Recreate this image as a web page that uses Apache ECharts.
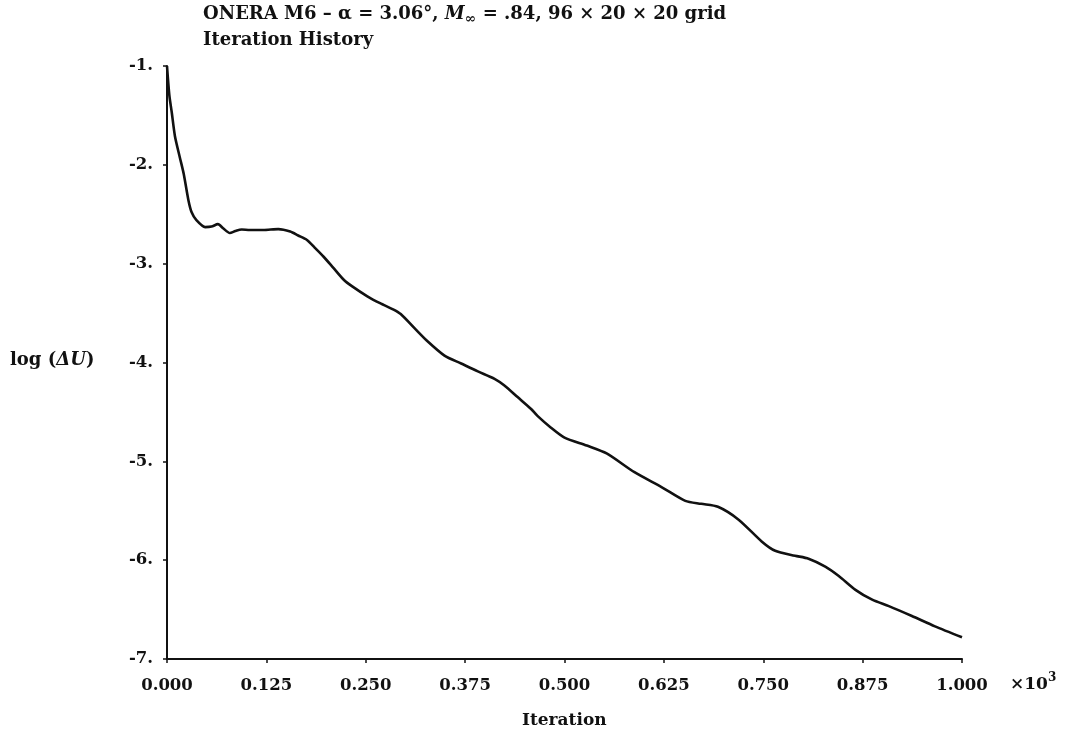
<!DOCTYPE html>
<html>
<head>
<meta charset="utf-8">
<script src="https://cdn.jsdelivr.net/npm/echarts@6/dist/echarts.min.js"></script>
<style>
html,body{margin:0;padding:0;background:#fff;}
#chart{width:1070px;height:737px;}
</style>
</head>
<body>
<div id="chart"></div>
<script>
// Data (x in thousands of iterations, y = log(ΔU))
const iterations = [0, 0.003, 0.006, 0.010, 0.016, 0.021, 0.027, 0.031, 0.037, 0.048, 0.056, 0.064, 0.071, 0.079, 0.086, 0.094, 0.104, 0.121, 0.140, 0.155, 0.165, 0.176, 0.186, 0.197, 0.209, 0.222, 0.233, 0.252, 0.268, 0.285, 0.294, 0.311, 0.327, 0.349, 0.370, 0.391, 0.412, 0.424, 0.441, 0.458, 0.466, 0.483, 0.500, 0.528, 0.553, 0.588, 0.622, 0.652, 0.672, 0.693, 0.719, 0.748, 0.765, 0.790, 0.807, 0.828, 0.845, 0.866, 0.887, 0.908, 0.937, 0.966, 1.000];
const logDU = [-1.00, -1.30, -1.47, -1.71, -1.92, -2.09, -2.36, -2.48, -2.56, -2.63, -2.625, -2.60, -2.645, -2.69, -2.67, -2.655, -2.66, -2.66, -2.65, -2.675, -2.715, -2.76, -2.84, -2.93, -3.04, -3.16, -3.23, -3.33, -3.40, -3.465, -3.51, -3.65, -3.78, -3.93, -4.01, -4.09, -4.165, -4.23, -4.35, -4.47, -4.54, -4.66, -4.76, -4.84, -4.92, -5.11, -5.26, -5.40, -5.43, -5.46, -5.59, -5.81, -5.905, -5.955, -5.985, -6.065, -6.16, -6.30, -6.40, -6.465, -6.565, -6.67, -6.78];
const xTickLabels = ['0.000','0.125','0.250','0.375','0.500','0.625','0.750','0.875','1.000'];
const yTickLabels = ['-7.','-6.','-5.','-4.','-3.','-2.','-1.'];

const FONT = '"DejaVu Serif", "Liberation Serif", serif';
const INK = '#111';

const chart = echarts.init(document.getElementById('chart'), null, {renderer:'canvas'});
const pts = iterations.map((x, i) => [x, logDU[i]]);

chart.setOption({
  backgroundColor: '#fff',
  animation: false,
  grid: {left: 167, right: 108, top: 66, bottom: 78, containLabel: false},
  xAxis: {
    type: 'value', min: 0, max: 1, interval: 0.125,
    splitLine: {show: false},
    axisLine: {show: true, lineStyle: {color: INK, width: 2}},
    axisTick: {show: true, inside: false, length: 4, lineStyle: {color: INK, width: 1.5}},
    axisLabel: {
      margin: 18, color: INK, fontFamily: FONT, fontWeight: 'bold', fontSize: 16.5,
      formatter: (v) => { const i = Math.round(v / 0.125); return xTickLabels[i] !== undefined ? xTickLabels[i] : ''; }
    }
  },
  yAxis: {
    type: 'value', min: -7, max: -1, interval: 1,
    splitLine: {show: false},
    axisLine: {show: true, onZero: false, lineStyle: {color: INK, width: 2}},
    axisTick: {show: true, length: 4, lineStyle: {color: INK, width: 1.5}},
    axisLabel: {
      margin: 14, color: INK, fontFamily: FONT, fontWeight: 'bold', fontSize: 16.5,
      formatter: (v) => { const i = Math.round(v + 7); return yTickLabels[i] !== undefined ? yTickLabels[i] : ''; }
    }
  },
  series: [{
    type: 'line', data: pts, showSymbol: false, smooth: 0.25,
    lineStyle: {color: INK, width: 2.6}
  }],
  graphic: [
    {
      type: 'text', left: 203, top: 2,
      style: {
        text: 'ONERA M6 – α = 3.06°, {i|M}{sub|∞} = .84, 96 × 20 × 20 grid',
        font: 'bold 18px ' + FONT, fill: INK, lineHeight: 24,
        rich: {
          i: {fontFamily: FONT, fontWeight: 'bold', fontStyle: 'italic', fontSize: 18, fill: INK, lineHeight: 24},
          sub: {fontFamily: FONT, fontWeight: 'bold', fontSize: 14, fill: INK, lineHeight: 12, verticalAlign: 'bottom'}
        }
      }
    },
    {
      type: 'text', left: 203, top: 31,
      style: {text: 'Iteration History', font: 'bold 18px ' + FONT, fill: INK}
    },
    {
      type: 'text', left: 10, top: 351,
      style: {
        text: 'log ({i|ΔU})',
        font: 'bold 18px ' + FONT, fill: INK,
        rich: {i: {fontFamily: FONT, fontWeight: 'bold', fontStyle: 'italic', fontSize: 18, fill: INK}}
      }
    },
    {
      type: 'text', left: 1010, top: 672,
      style: {
        text: '×10{sup|3}',
        font: 'bold 17px ' + FONT, fill: INK, lineHeight: 26,
        rich: {sup: {fontFamily: FONT, fontWeight: 'bold', fontSize: 12, fill: INK, lineHeight: 12, verticalAlign: 'top'}}
      }
    },
    {
      type: 'text', left: 522, top: 712,
      style: {text: 'Iteration', font: 'bold 17px ' + FONT, fill: INK}
    }
  ]
});
</script>
</body>
</html>
